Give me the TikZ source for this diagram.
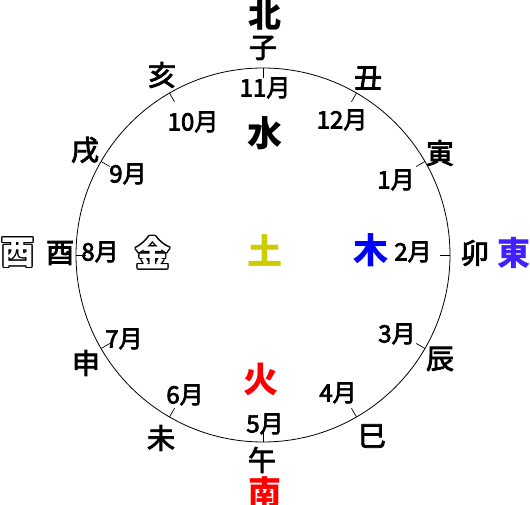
\documentclass[tikz,border=0pt]{standalone}
\usepackage{fontspec}
\newfontfamily\jp{Noto Sans CJK JP}
\newfontfamily\jpm[FakeBold=3]{Noto Sans CJK JP}
\usepackage[copies]{contour}
\contourlength{1pt}

\begin{document}
\begin{tikzpicture}[x=1pt,y=1pt,
  month/.style={font=\jpm\fontsize{24}{24}\selectfont, inner sep=0pt},
  branch/.style={font=\jpm\fontsize{28}{28}\selectfont, inner sep=0pt},
  element/.style={font=\jp\bfseries\fontsize{35}{35}\selectfont, inner sep=0pt},
  compass/.style={font=\jp\bfseries\fontsize{33}{33}\selectfont, inner sep=0pt}]

\useasboundingbox (-263,255) rectangle (267,-249);

% Circle and ticks
\coordinate (c) at (0,0);
\draw[line width=0.8pt] (c) circle (187);
\foreach \a in {0,30,...,330}
  \draw[line width=0.7pt] (c) ++(\a:187) -- ++(\a+180:10);

% Compass points
\node[compass] (north) at (2,240) {北};
\node[compass, text=red] (south) at (2,-237) {南};
\node[compass, text={rgb,255:red,64;green,32;blue,255}] (east) at (251,2) {東};
\node[compass] (west) at (-245,2) {\color{white}\contour{black}{西}};

% Elements
\node[element] (water) at (2,122) {水};
\node[element, text={rgb,255:red,204;green,204;blue,0}] (earth) at (2,5) {土};
\node[element, text=blue] (wood) at (108,5) {木};
\node[element, text=red] (fire) at (-2,-124) {火};
\node[element] (metal) at (-110,2) {\color{white}\contour{black}{金}};

% Branches
\node[branch] (zi) at (0,207) {子};
\node[branch] (chou) at (105,177) {丑};
\node[branch] (yin) at (177,102) {寅};
\node[branch] (mao) at (212,2) {卯};
\node[branch] (chen) at (177,-104) {辰};
\node[branch] (si) at (109,-181) {巳};
\node[branch] (wu) at (-1,-205) {午};
\node[branch] (wei) at (-102,-183) {未};
\node[branch] (shen) at (-177,-108) {申};
\node[branch] (you) at (-203,2) {酉};
\node[branch] (xu) at (-178,105) {戌};
\node[branch] (hai) at (-101,180) {亥};

% Months
\node[month] (m11) at (2,167) {11月};
\node[month] (m12) at (79,135) {12月};
\node[month] (m1) at (133,75) {1月};
\node[month] (m2) at (150,3) {2月};
\node[month] (m3) at (134,-79) {3月};
\node[month] (m4) at (75,-138) {4月};
\node[month] (m5) at (2,-169) {5月};
\node[month] (m6) at (-78,-140) {6月};
\node[month] (m7) at (-139,-84) {7月};
\node[month] (m8) at (-163,3) {8月};
\node[month] (m9) at (-135,81) {9月};
\node[month] (m10) at (-70,133) {10月};

\end{tikzpicture}
\end{document}
